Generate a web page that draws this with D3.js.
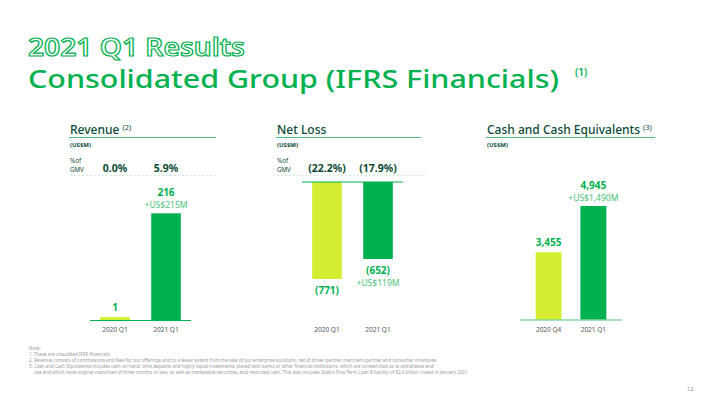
<!DOCTYPE html>
<html>
<head>
<meta charset="utf-8">
<script src="https://cdn.jsdelivr.net/npm/d3@7"></script>
<style>
  html, body { margin: 0; padding: 0; background: #fff; }
  svg { display: block; font-family: "Noto Sans", "Open Sans", sans-serif; }
</style>
</head>
<body>
<svg id="chart" width="720" height="404"></svg>
<script>
// data
const revenueCats = ["2020 Q1", "2021 Q1"]
const revenueValues = [1, 216]
const revenueLabels = ["1", "216"]
const revenueGmv = ["0.0%", "5.9%"]

const lossCats = ["2020 Q1", "2021 Q1"]
const lossValues = [771, 652]
const lossLabels = ["(771)", "(652)"]
const lossGmv = ["(22.2%)", "(17.9%)"]

const cashCats = ["2020 Q4", "2021 Q1"]
const cashValues = [3455, 4945]
const cashLabels = ["3,455", "4,945"]

const notes = [
    "Note:",
    "1. These are unaudited IFRS financials",
    "2. Revenue consists of commissions and fees for our offerings and to a lesser extent from the sale of our enterprise solutions, net of driver-partner, merchant-partner and consumer incentives",
    "3. Cash and Cash Equivalents includes cash on hand, time deposits and highly liquid investments placed with banks or other financial institutions, which are unrestricted as to withdrawal and",
    "use and which have original maturities of three months or less, as well as marketable securities, and restricted cash. This also includes Grab's First Term Loan B Facility of $2.0 billion closed in January 2021"
]

const GREEN = "#00b14f"
const LIME = "#d4ed31"
const DARK = "#0a4a37"
const LIGHT = "#48c27c"
const colors = [LIME, GREEN]

const svg = d3.select("#chart")

// headline (stretched to the slide's wider typeface)
svg.append("text")
    .attr("x", 28).attr("y", 56)
    .attr("font-size", 25).attr("font-weight", 600)
    .attr("fill", "#fff").attr("stroke", GREEN).attr("stroke-width", 1.2)
    .attr("textLength", 217).attr("lengthAdjust", "spacingAndGlyphs")
    .text("2021 Q1 Results")

svg.append("text")
    .attr("x", 28).attr("y", 88)
    .attr("font-size", 26).attr("font-weight", 500)
    .attr("fill", GREEN)
    .attr("textLength", 531).attr("lengthAdjust", "spacingAndGlyphs")
    .text("Consolidated Group (IFRS Financials)")

svg.append("text")
    .attr("x", 575).attr("y", 76)
    .attr("font-size", 10).attr("font-weight", 600)
    .attr("fill", GREEN)
    .text("(1)")

function panelHeader(x0, x1, title, sup) {
    const g = svg.append("g")
    const t = g.append("text")
        .attr("x", x0 + 1).attr("y", 134)
        .attr("font-size", 12).attr("font-weight", 500)
        .attr("fill", DARK)
        .text(title)
    if (sup) {
        const w = t.node().getComputedTextLength()
        g.append("text")
            .attr("x", x0 + 1 + w + 3).attr("y", 130)
            .attr("font-size", 7.5).attr("fill", DARK)
            .text(sup)
    }
    g.append("line")
        .attr("x1", x0).attr("x2", x1)
        .attr("y1", 137.5).attr("y2", 137.5)
        .attr("stroke", LIGHT).attr("stroke-width", 1)
    g.append("text")
        .attr("x", x0 + 1).attr("y", 146.5)
        .attr("font-size", 6).attr("font-weight", 700)
        .attr("fill", DARK)
        .text("(US$M)")
    return g
}

function gmvRow(x0, x1, xScale, cats, gmv) {
    svg.append("text")
        .attr("x", x0 + 1).attr("y", 163)
        .attr("font-size", 6.2).attr("fill", DARK)
        .text("%of")
    svg.append("text")
        .attr("x", x0 + 1).attr("y", 172)
        .attr("font-size", 6.2).attr("fill", DARK)
        .text("GMV")
    svg.selectAll(null)
        .data(cats)
        .enter().append("text")
        .attr("x", d => xScale(d) + xScale.bandwidth() / 2)
        .attr("y", 171.5)
        .attr("text-anchor", "middle")
        .attr("font-size", 10.5).attr("font-weight", 700)
        .attr("fill", DARK)
        .text((d, i) => gmv[i])
    svg.append("line")
        .attr("x1", x0 + 1).attr("x2", x1)
        .attr("y1", 175.5).attr("y2", 175.5)
        .attr("stroke", "#c9e0e4").attr("stroke-width", 0.8)
        .attr("stroke-dasharray", "2,2")
}

function catLabels(xScale, cats) {
    svg.selectAll(null)
        .data(cats)
        .enter().append("text")
        .attr("x", d => xScale(d) + xScale.bandwidth() / 2)
        .attr("y", 332)
        .attr("text-anchor", "middle")
        .attr("font-size", 6.5).attr("fill", "#555")
        .text(d => d)
}

// ---------- Revenue ----------
{
    const x = d3.scaleBand().domain(revenueCats).range([90, 191]).paddingInner(0.42).paddingOuter(0.2)
    const base = 320
    const y = d3.scaleLinear().domain([-5, 216]).range([base, 213.3])
    panelHeader(69, 216, "Revenue", "(2)")
    gmvRow(69, 216, x, revenueCats, revenueGmv)

    svg.selectAll(".rev-bar")
        .data(revenueValues)
        .enter().append("rect")
        .attr("class", "rev-bar")
        .attr("x", (d, i) => x(revenueCats[i]))
        .attr("width", x.bandwidth())
        .attr("y", d => y(d))
        .attr("height", d => base - y(d))
        .attr("fill", (d, i) => colors[i])

    svg.append("line")
        .attr("x1", x.range()[0]).attr("x2", x.range()[1])
        .attr("y1", base + 0.5).attr("y2", base + 0.5)
        .attr("stroke", GREEN).attr("stroke-width", 1)

    svg.selectAll(".rev-lbl")
        .data(revenueValues)
        .enter().append("text")
        .attr("class", "rev-lbl")
        .attr("x", (d, i) => x(revenueCats[i]) + x.bandwidth() / 2)
        .attr("y", (d, i) => y(d) - (i === 1 ? 17 : 6))
        .attr("text-anchor", "middle")
        .attr("font-size", 10).attr("font-weight", 700)
        .attr("fill", GREEN)
        .text((d, i) => revenueLabels[i])

    svg.append("text")
        .attr("x", x("2021 Q1") + x.bandwidth() / 2)
        .attr("y", y(216) - 5)
        .attr("text-anchor", "middle")
        .attr("font-size", 8.5).attr("fill", LIGHT)
        .text("+US$215M")

    catLabels(x, revenueCats)
}

// ---------- Net Loss ----------
{
    const x = d3.scaleBand().domain(lossCats).range([302, 403]).paddingInner(0.42).paddingOuter(0.2)
    const base = 182
    const y = d3.scaleLinear().domain([194, 771]).range([base, 279])
    panelHeader(276, 421, "Net Loss", null)
    gmvRow(276, 426, x, lossCats, lossGmv)

    svg.selectAll(".loss-bar")
        .data(lossValues)
        .enter().append("rect")
        .attr("class", "loss-bar")
        .attr("x", (d, i) => x(lossCats[i]))
        .attr("width", x.bandwidth())
        .attr("y", base)
        .attr("height", d => y(d) - base)
        .attr("fill", (d, i) => colors[i])

    svg.append("line")
        .attr("x1", x.range()[0]).attr("x2", x.range()[1])
        .attr("y1", base).attr("y2", base)
        .attr("stroke", GREEN).attr("stroke-width", 1)

    svg.selectAll(".loss-lbl")
        .data(lossValues)
        .enter().append("text")
        .attr("class", "loss-lbl")
        .attr("x", (d, i) => x(lossCats[i]) + x.bandwidth() / 2)
        .attr("y", d => y(d) + 15)
        .attr("text-anchor", "middle")
        .attr("font-size", 10).attr("font-weight", 700)
        .attr("fill", GREEN)
        .text((d, i) => lossLabels[i])

    svg.append("text")
        .attr("x", x("2021 Q1") + x.bandwidth() / 2)
        .attr("y", y(652) + 27)
        .attr("text-anchor", "middle")
        .attr("font-size", 8.5).attr("fill", LIGHT)
        .text("+US$119M")

    catLabels(x, lossCats)
}

// ---------- Cash ----------
{
    const x = d3.scaleBand().domain(cashCats).range([520, 622]).paddingInner(0.42).paddingOuter(0.35)
    const base = 319.5
    const y = d3.scaleLinear().domain([1290, 4945]).range([base, 206])
    panelHeader(486, 655, "Cash and Cash Equivalents", "(3)")

    svg.selectAll(".cash-bar")
        .data(cashValues)
        .enter().append("rect")
        .attr("class", "cash-bar")
        .attr("x", (d, i) => x(cashCats[i]))
        .attr("width", x.bandwidth())
        .attr("y", d => y(d))
        .attr("height", d => base - y(d))
        .attr("fill", (d, i) => colors[i])

    svg.append("line")
        .attr("x1", x.range()[0]).attr("x2", x.range()[1])
        .attr("y1", base + 0.5).attr("y2", base + 0.5)
        .attr("stroke", LIGHT).attr("stroke-width", 1.2)

    svg.selectAll(".cash-lbl")
        .data(cashValues)
        .enter().append("text")
        .attr("class", "cash-lbl")
        .attr("x", (d, i) => x(cashCats[i]) + x.bandwidth() / 2)
        .attr("y", (d, i) => y(d) - (i === 1 ? 17 : 6))
        .attr("text-anchor", "middle")
        .attr("font-size", 10).attr("font-weight", 700)
        .attr("fill", GREEN)
        .text((d, i) => cashLabels[i])

    svg.append("text")
        .attr("x", x("2021 Q1") + x.bandwidth() / 2)
        .attr("y", y(4945) - 5)
        .attr("text-anchor", "middle")
        .attr("font-size", 8.5).attr("fill", LIGHT)
        .text("+US$1,490M")

    catLabels(x, cashCats)
}

// footnotes
const noteY = [350, 356, 362, 368, 374]
svg.selectAll(".note")
    .data(notes)
    .enter().append("text")
    .attr("class", "note")
    .attr("x", (d, i) => i === 4 ? 34 : 29)
    .attr("y", (d, i) => noteY[i])
    .attr("font-size", 4.55).attr("fill", "#9a9a9a")
    .text(d => d)

svg.append("text")
    .attr("x", 687).attr("y", 391)
    .attr("font-size", 5.5).attr("fill", "#888")
    .text("12")
</script>
</body>
</html>
